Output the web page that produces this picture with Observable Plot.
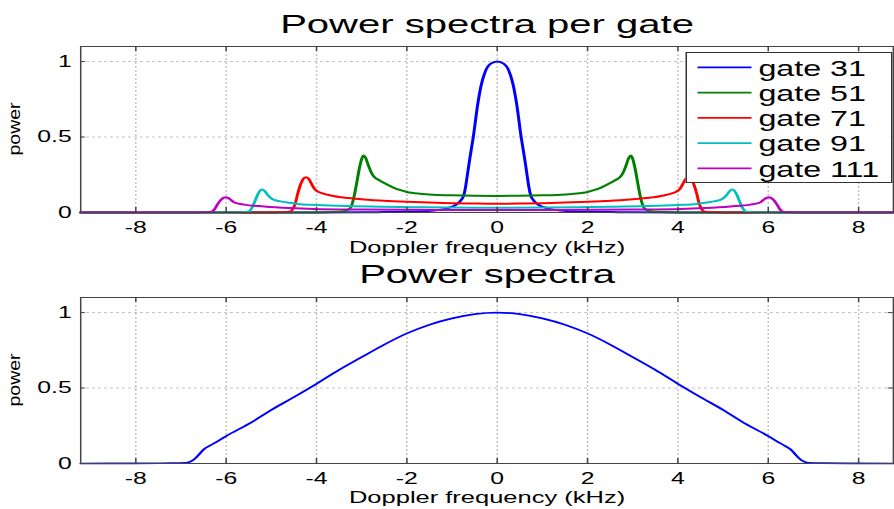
<!DOCTYPE html>
<html><head><meta charset="utf-8">
<script src="https://cdn.jsdelivr.net/npm/d3@7"></script>
<script src="https://cdn.jsdelivr.net/npm/@observablehq/plot@0.6"></script>
<style>
html,body{margin:0;padding:0;background:#fff;overflow:hidden;}
#wrap{position:relative;width:596px;height:509px;transform:scaleX(1.5);transform-origin:0 0;font-family:"Liberation Sans",Arial,Helvetica,sans-serif;}
#p1{position:absolute;left:0;top:0;}
#p2{position:absolute;left:0;top:250px;}
#legend{position:absolute;left:457.3px;top:52px;width:137.8px;height:131px;background:#fff;border:1px solid #333;box-sizing:border-box;}
#legend svg{position:absolute;left:-1px;top:-1px;overflow:visible;}
</style></head>
<body>
<div id="wrap"><div id="p1"></div><div id="p2"></div><div id="legend"></div></div>
<script>
// ---- data ----
const xTicks = [-8, -6, -4, -2, 0, 2, 4, 6, 8];
const yTicks = [0, 0.5, 1];
const xDomain = [-9.22, 8.77];
const yDomain = [0, 1.1];
const titleTop = "Power spectra per gate";
const titleBottom = "Power spectra";
const xLabel = "Doppler frequency (kHz)";
const yLabel = "power";
const gateNames = ["gate 31", "gate 51", "gate 71", "gate 91", "gate 111"];
const gateColors = ["#0000ff", "#008000", "#ff0000", "#00bfbf", "#bf00bf"];

const gate31 = [[-9.22,0],[-4,0],[-3,0.001],[-2.5,0.003],[-2,0.005],[-1.6,0.009],[-1.3,0.016],[-1.15,0.024],[-1.03,0.035],[-0.92,0.05],[-0.85,0.065],[-0.78,0.09],[-0.74,0.115],[-0.7,0.17],[-0.66,0.25],[-0.6,0.37],[-0.53,0.5],[-0.43,0.72],[-0.35,0.85],[-0.27,0.93],[-0.15,0.985],[0,1],[0.15,0.985],[0.27,0.93],[0.35,0.85],[0.43,0.72],[0.53,0.5],[0.6,0.37],[0.66,0.25],[0.7,0.17],[0.74,0.115],[0.78,0.09],[0.85,0.065],[0.92,0.05],[1.03,0.035],[1.15,0.024],[1.3,0.016],[1.6,0.009],[2,0.005],[2.5,0.003],[3,0.001],[4,0],[8.77,0]];
const gate51 = [[-9.22,0],[-4,0],[-3.6,0.003],[-3.4,0.008],[-3.3,0.018],[-3.24,0.035],[-3.18,0.09],[-3.12,0.18],[-3.06,0.28],[-3.0,0.355],[-2.96,0.378],[-2.91,0.36],[-2.85,0.31],[-2.78,0.26],[-2.72,0.235],[-2.6,0.212],[-2.5,0.195],[-2.3,0.165],[-2.14,0.148],[-2,0.136],[-1.7,0.124],[-1.4,0.118],[-1,0.114],[-0.5,0.111],[0,0.11],[0.5,0.111],[1,0.114],[1.4,0.118],[1.7,0.124],[2,0.136],[2.14,0.148],[2.3,0.165],[2.5,0.195],[2.6,0.212],[2.72,0.235],[2.78,0.26],[2.85,0.31],[2.91,0.36],[2.96,0.378],[3.0,0.355],[3.06,0.28],[3.12,0.18],[3.18,0.09],[3.24,0.035],[3.3,0.018],[3.4,0.008],[3.6,0.003],[4,0],[8.77,0]];
const gate71 = [[-9.22,0],[-5,0],[-4.8,0.002],[-4.65,0.004],[-4.57,0.008],[-4.52,0.025],[-4.47,0.06],[-4.42,0.12],[-4.36,0.18],[-4.3,0.22],[-4.24,0.234],[-4.18,0.225],[-4.11,0.19],[-4.05,0.158],[-3.98,0.14],[-3.85,0.125],[-3.69,0.113],[-3.3,0.096],[-2.95,0.086],[-2.4,0.076],[-1.84,0.069],[-1.2,0.063],[-0.6,0.06],[0,0.058],[0.6,0.06],[1.2,0.063],[1.84,0.069],[2.4,0.076],[2.95,0.086],[3.3,0.096],[3.69,0.113],[3.85,0.125],[3.98,0.14],[4.05,0.158],[4.11,0.19],[4.18,0.225],[4.24,0.234],[4.3,0.22],[4.36,0.18],[4.42,0.12],[4.47,0.06],[4.52,0.025],[4.57,0.008],[4.65,0.004],[4.8,0.002],[5,0],[8.77,0]];
const gate91 = [[-9.22,0],[-5.8,0],[-5.55,0.003],[-5.48,0.01],[-5.43,0.03],[-5.37,0.07],[-5.3,0.12],[-5.24,0.148],[-5.2,0.152],[-5.14,0.14],[-5.07,0.112],[-4.98,0.09],[-4.8,0.074],[-4.6,0.064],[-4.42,0.057],[-4,0.05],[-3.32,0.043],[-2.5,0.038],[-1.8,0.035],[-1.1,0.033],[0,0.032],[1.1,0.033],[1.8,0.035],[2.5,0.038],[3.32,0.043],[4,0.05],[4.42,0.057],[4.6,0.064],[4.8,0.074],[4.98,0.09],[5.07,0.112],[5.14,0.14],[5.2,0.152],[5.24,0.148],[5.3,0.12],[5.37,0.07],[5.43,0.03],[5.48,0.01],[5.55,0.003],[5.8,0],[8.77,0]];
const gate111 = [[-9.22,0],[-6.6,0],[-6.35,0.003],[-6.3,0.008],[-6.25,0.025],[-6.2,0.05],[-6.13,0.08],[-6.06,0.097],[-6.01,0.101],[-5.95,0.095],[-5.88,0.08],[-5.83,0.068],[-5.6,0.052],[-5.16,0.04],[-4.6,0.03],[-4.06,0.024],[-3,0.02],[-2,0.018],[-1,0.017],[0,0.016],[1,0.017],[2,0.018],[3,0.02],[4.06,0.024],[4.6,0.03],[5.16,0.04],[5.6,0.052],[5.83,0.068],[5.88,0.08],[5.95,0.095],[6.01,0.101],[6.06,0.097],[6.13,0.08],[6.2,0.05],[6.25,0.025],[6.3,0.008],[6.35,0.003],[6.6,0],[8.77,0]];
const total = [[-9.22,0],[-8,0.001],[-7.2,0.002],[-6.9,0.005],[-6.8,0.012],[-6.7,0.03],[-6.6,0.06],[-6.5,0.092],[-6.35,0.12],[-6.2,0.145],[-6,0.182],[-5.5,0.262],[-5,0.355],[-4.5,0.44],[-4,0.528],[-3.5,0.62],[-3,0.705],[-2.5,0.788],[-2,0.862],[-1.5,0.92],[-1,0.962],[-0.5,0.99],[0,1],[0.5,0.99],[1,0.962],[1.5,0.92],[2,0.862],[2.5,0.788],[3,0.705],[3.5,0.62],[4,0.528],[4.5,0.44],[5,0.355],[5.5,0.262],[6,0.182],[6.2,0.145],[6.35,0.12],[6.5,0.092],[6.6,0.06],[6.7,0.03],[6.8,0.012],[6.9,0.005],[7.2,0.002],[8,0.001],[8.77,0]];
const gateSeries = [gate31, gate51, gate71, gate91, gate111];

// ---- drawing ----
const axisColor = "#444";
const gridStyle = {stroke: "#c4c4c4", strokeOpacity: 1, strokeDasharray: "2,2", strokeWidth: 1};

function panel({height, marginTop, marginBottom, title, titleDy, labelDy, lines}) {
  const svg = Plot.plot({
    width: 596, height, marginTop, marginBottom, marginLeft: 53.3, marginRight: 0.9,
    style: {fontFamily: '"Liberation Sans", Arial, sans-serif', fontSize: "16px", color: "#000", background: "transparent"},
    x: {domain: xDomain},
    y: {domain: yDomain},
    marks: [
      Plot.gridX(xTicks, gridStyle),
      Plot.gridY(yTicks, gridStyle),
      ...lines,
      Plot.frame({stroke: axisColor, strokeWidth: 1}),
      Plot.ruleX(xTicks, {y1: 0, y2: 0.033, stroke: axisColor}),
      Plot.ruleX(xTicks, {y1: 1.1, y2: 1.067, stroke: axisColor}),
      Plot.ruleY(yTicks, {x1: xDomain[0], x2: xDomain[0] + 0.11, stroke: axisColor}),
      Plot.ruleY(yTicks, {x1: xDomain[1], x2: xDomain[1] - 0.11, stroke: axisColor}),
      Plot.axisX(xTicks, {tickSize: 0, tickPadding: 9, tickFormat: d => String(d), label: null, fontSize: 16.5}),
      Plot.axisY(yTicks, {tickSize: 0, tickPadding: 6, tickFormat: d => String(d), label: null, fontSize: 16.5}),
      Plot.text([xLabel], {frameAnchor: "bottom", lineAnchor: "bottom", dy: labelDy, fontSize: 17, fill: "#000"}),
      Plot.text([title], {frameAnchor: "top", lineAnchor: "bottom", dy: titleDy, fontSize: 26.7, fill: "#000"})
    ]
  });
  const fc = marginTop + (height - marginTop - marginBottom) / 2;
  d3.select(svg).append("text")
    .attr("transform", `translate(13,${fc}) scale(0.58,1) rotate(-90)`)
    .attr("text-anchor", "middle")
    .attr("font-size", 19.5)
    .attr("fill", "#000")
    .text(yLabel);
  return svg;
}

const topLines = gateSeries.map((s, i) =>
  Plot.line(s, {x: d => d[0], y: d => d[1], stroke: gateColors[i], strokeWidth: 2, curve: "monotone-x"}));
document.getElementById("p1").appendChild(panel({
  height: 260, marginTop: 46, marginBottom: 48, title: titleTop, titleDy: -14, labelDy: 40, lines: topLines
}));

const bottomLines = [Plot.line(total, {x: d => d[0], y: d => d[1], stroke: "#0000ff", strokeWidth: 1.7, curve: "monotone-x"})];
document.getElementById("p2").appendChild(panel({
  height: 259, marginTop: 47, marginBottom: 46, title: titleBottom, titleDy: -14.7, labelDy: 39, lines: bottomLines
}));

// legend
const lg = d3.select("#legend").append("svg").attr("width", 138).attr("height", 131);
gateNames.forEach((name, i) => {
  const base = 23.7 + 25.25 * i;
  lg.append("line").attr("x1", 8).attr("x2", 44).attr("y1", base - 8.3).attr("y2", base - 8.3)
    .attr("stroke", gateColors[i]).attr("stroke-width", 1.6);
  lg.append("text").attr("x", 48.6).attr("y", base).attr("font-size", 21.5)
    .attr("font-family", '"Liberation Sans", Arial, sans-serif').attr("fill", "#000").text(name);
});
</script>
</body></html>
